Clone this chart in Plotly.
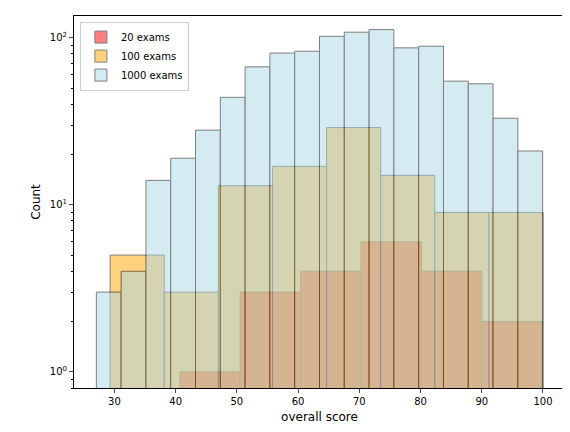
import plotly.graph_objects as go
import numpy as np

labels = ["20 exams", "100 exams", "1000 exams"]
colors = ["rgb(255,0,0)", "rgb(255,165,0)", "rgb(173,216,230)"]

# bin start, bin width, counts
start_20, width_20 = 40.7, 9.86
counts_20 = [1, 3, 4, 6, 4, 2]
start_100, width_100 = 29.3, 8.84
counts_100 = [5, 3, 13, 17, 29, 15, 9, 9]
start_1000, width_1000 = 27.05, 4.05
counts_1000 = [3, 4, 14, 19, 28, 44, 67, 81, 83, 102, 108, 112, 87, 89, 55, 53, 33, 21]

fig = go.Figure()
series = [(labels[0], colors[0], start_20, width_20, counts_20),
          (labels[1], colors[1], start_100, width_100, counts_100),
          (labels[2], colors[2], start_1000, width_1000, counts_1000)]
for name, col, s, w, c in series:
    centers = s + w * (np.arange(len(c)) + 0.5)
    fig.add_trace(go.Bar(x=centers, y=c, width=w, name=name, opacity=0.5 if name != labels[2] else 0.5,
                         marker=dict(color=col, line=dict(color="black", width=1))))

fig.update_layout(
    width=570, height=432, barmode="overlay", plot_bgcolor="white", paper_bgcolor="white",
    margin=dict(l=66, r=13, t=8, b=52),
    font=dict(family="DejaVu Sans", size=10, color="black"),
    legend=dict(x=0.012, y=0.985, xanchor="left", yanchor="top", traceorder="normal",
                bordercolor="#cccccc", borderwidth=1, font=dict(size=10)),
    showlegend=True,
)
fig.update_xaxes(range=[23.4, 103.6], tickvals=list(range(30, 101, 10)), ticks="outside",
                 ticklen=4, showline=True, linecolor="black", mirror=True, showgrid=False,
                 zeroline=False, title=dict(text="overall score", standoff=6))
minor = [v * 10**e for e in range(-1, 3) for v in range(2, 10)]
fig.update_yaxes(type="log", range=[np.log10(0.8), np.log10(135)], tickvals=[1, 10, 100],
                 ticktext=["10<sup>0</sup>", "10<sup>1</sup>", "10<sup>2</sup>"],
                 ticks="outside", ticklen=4, showline=True, linecolor="black", mirror=True,
                 showgrid=False, zeroline=False, title=dict(text="Count", standoff=6),
                 minor=dict(tickvals=minor, ticks="outside", ticklen=2, tickcolor="black"))
fig.write_html("out.html")
